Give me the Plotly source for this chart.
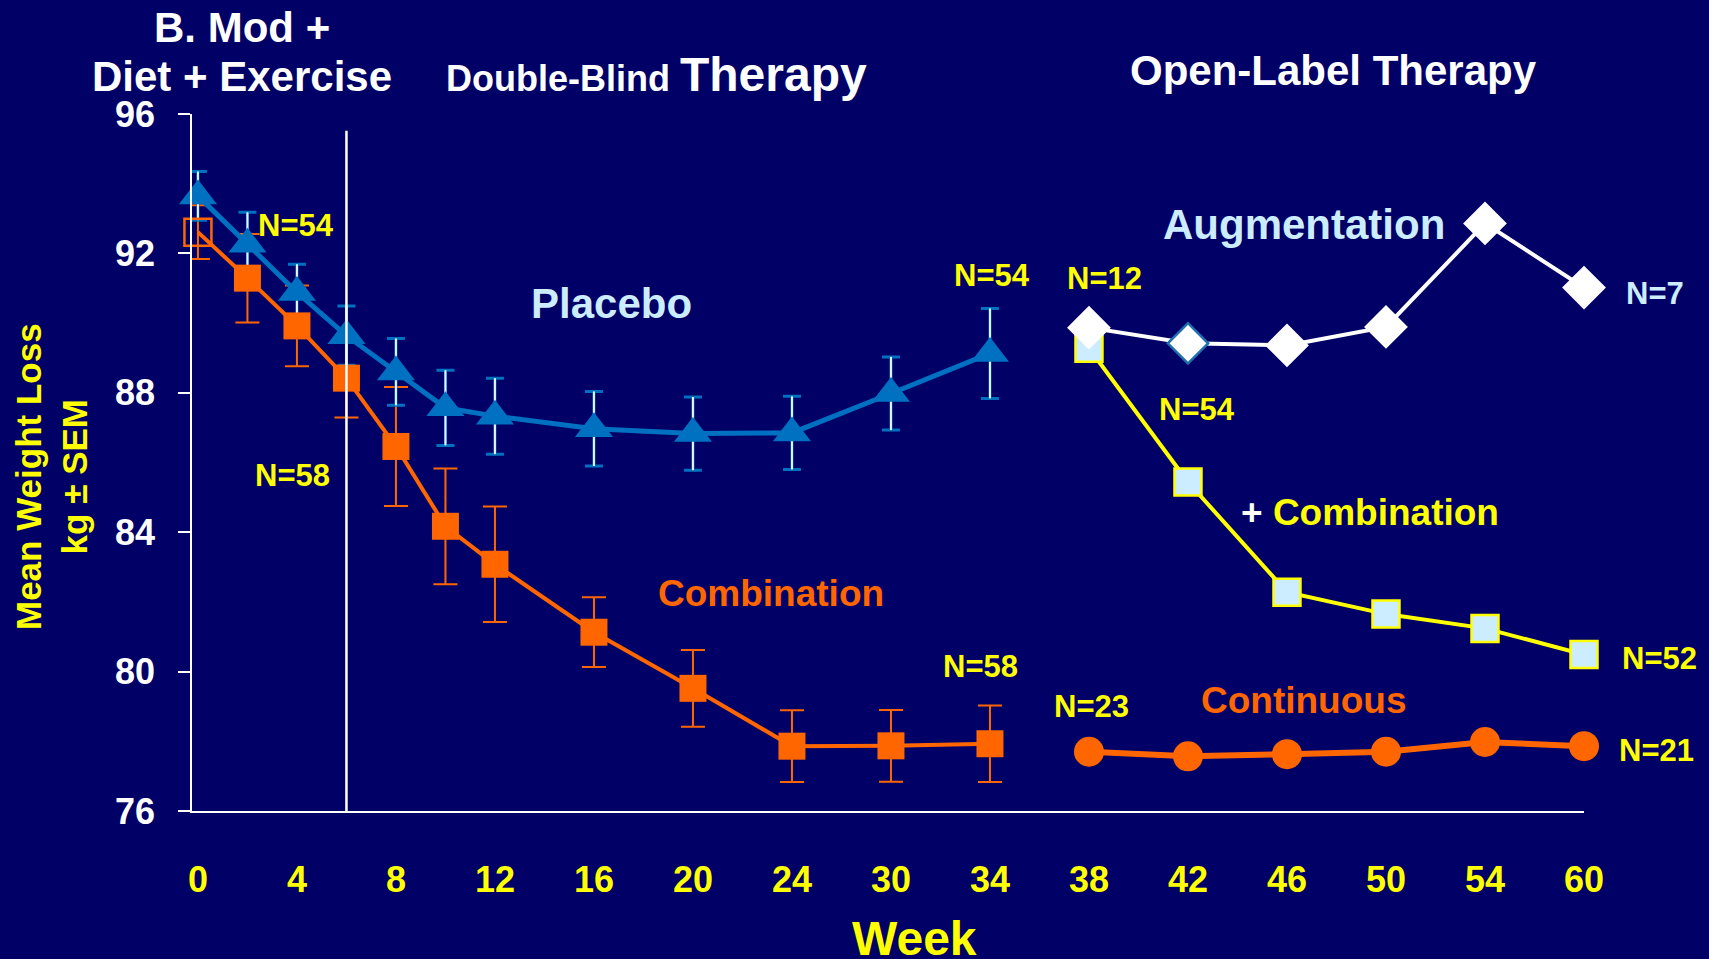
import numpy as np
import plotly.graph_objects as go

# ---------------- data ----------------
tick_weeks = [0, 4, 8, 12, 16, 20, 24, 30, 34, 38, 42, 46, 50, 54, 60]
tick_labels = [str(w) for w in tick_weeks]

placebo_weeks = [0, 2, 4, 6, 8, 10, 12, 16, 20, 24, 30, 34]
placebo_mean = [93.65, 92.26, 90.88, 89.64, 88.60, 87.57, 87.33, 86.97, 86.83, 86.85, 87.98, 89.13]
placebo_sem = [0.70, 0.92, 0.81, 0.85, 0.96, 1.08, 1.09, 1.07, 1.05, 1.05, 1.05, 1.29]

combo_weeks = [0, 2, 4, 6, 8, 10, 12, 16, 20, 24, 30, 34]
combo_mean = [92.61, 91.29, 89.92, 88.42, 86.46, 84.17, 83.08, 81.13, 79.52, 77.86, 77.87, 77.93]
combo_sem = [0.77, 1.27, 1.16, 1.13, 1.71, 1.66, 1.66, 1.00, 1.10, 1.03, 1.03, 1.10]

ol_weeks = [38, 42, 46, 50, 54, 60]
continuous_mean = [77.70, 77.57, 77.63, 77.70, 77.98, 77.86]
plus_combo_mean = [89.28, 85.44, 82.28, 81.65, 81.24, 80.49]
augment_mean = [89.87, 89.42, 89.36, 89.89, 92.86, 91.02]

# ---------------- styling ----------------
NAVY = "#000066"
BLUE = "#0070C0"
ORANGE = "#FF6600"
YELLOW = "#FFFF00"
LIGHT = "#CCECFF"
WHITE = "#FFFFFF"
FONT = "Liberation Sans, Arial, sans-serif"

# x positions: tick weeks are evenly spaced on the slide (ordinal scale)
tick_idx = list(range(len(tick_weeks)))


def xpos(weeks):
    return list(np.interp(weeks, tick_weeks, tick_idx))


L, R, T, B = 192, 1584, 114, 811
W, H = 1709, 959


def paper(px, py):
    return (px - L) / (R - L), (B - py) / (B - T)


fig = go.Figure()

# error bars (drawn beneath the series)
fig.add_trace(go.Scatter(
    x=xpos(combo_weeks), y=combo_mean, mode="markers",
    marker=dict(size=1, color="rgba(0,0,0,0)"),
    error_y=dict(type="data", array=combo_sem, color=ORANGE, thickness=2, width=12),
    hoverinfo="skip", cliponaxis=False))
fig.add_trace(go.Scatter(
    x=xpos(placebo_weeks), y=placebo_mean, mode="markers",
    marker=dict(size=1, color="rgba(0,0,0,0)"),
    error_y=dict(type="data", array=placebo_sem, color=BLUE, thickness=3, width=9),
    hoverinfo="skip", cliponaxis=False))
fig.add_trace(go.Scatter(
    x=xpos(placebo_weeks), y=placebo_mean, mode="markers",
    marker=dict(size=1, color="rgba(0,0,0,0)"),
    error_y=dict(type="data", array=placebo_sem, color="#E6F4FF", thickness=2, width=0),
    hoverinfo="skip", cliponaxis=False))

# Combination (double-blind)
fig.add_trace(go.Scatter(
    x=xpos(combo_weeks), y=combo_mean, mode="lines+markers",
    line=dict(color=ORANGE, width=4),
    marker=dict(symbol="square", size=27,
                color=["rgba(0,0,0,0)"] + [ORANGE] * (len(combo_weeks) - 1),
                line=dict(color=ORANGE, width=[2.5] + [0] * (len(combo_weeks) - 1))),
    cliponaxis=False, name="Combination"))

# Placebo
fig.add_trace(go.Scatter(
    x=xpos(placebo_weeks), y=placebo_mean, mode="lines+markers",
    line=dict(color=BLUE, width=5),
    marker=dict(symbol="triangle-up", size=33, color=BLUE),
    cliponaxis=False, name="Placebo"))

# Continuous
fig.add_trace(go.Scatter(
    x=xpos(ol_weeks), y=continuous_mean, mode="lines+markers",
    line=dict(color=ORANGE, width=6),
    marker=dict(symbol="circle", size=30, color=ORANGE),
    cliponaxis=False, name="Continuous"))

# + Combination
fig.add_trace(go.Scatter(
    x=xpos(ol_weeks), y=plus_combo_mean, mode="lines+markers",
    line=dict(color=YELLOW, width=4),
    marker=dict(symbol="square", size=27, color=LIGHT, line=dict(color=YELLOW, width=2.5)),
    cliponaxis=False, name="+ Combination"))

# Augmentation
fig.add_trace(go.Scatter(
    x=xpos(ol_weeks), y=augment_mean, mode="lines+markers",
    line=dict(color=WHITE, width=4),
    marker=dict(symbol="diamond", size=31, color=WHITE,
                line=dict(color=[WHITE, "#1F6FAF", WHITE, WHITE, WHITE, WHITE], width=2.5)),
    cliponaxis=False, name="Augmentation"))

# vertical separator at week 6
x6 = xpos([6])[0]
fig.add_shape(type="line", xref="x", yref="y", x0=x6, x1=x6, y0=75.93, y1=95.52,
              line=dict(color=WHITE, width=2.5))

ann = []


def add(text, px, py, size, color, xanchor="center", angle=0):
    xp, yp = paper(px, py)
    ann.append(dict(text=text, x=xp, y=yp, xref="paper", yref="paper", showarrow=False,
                    xanchor=xanchor, yanchor="middle", textangle=angle,
                    font=dict(family=FONT, size=size, color=color, weight="bold")))


add("B. Mod +", 242, 27, 42, WHITE)
add("Diet + Exercise", 242, 76, 42, WHITE)
add("Double-Blind <span style='font-size:48px'>Therapy</span>", 444, 74, 36, WHITE, xanchor="left")
add("Open-Label Therapy", 1333, 71, 42, WHITE)
add("Placebo", 611, 303, 42, LIGHT)
add("Augmentation", 1304, 224, 42, LIGHT)
add("Combination", 771, 593, 37, ORANGE)
add("<span style='color:#FFFFFF'>+</span> Combination", 1370, 512, 37, YELLOW)
add("Continuous", 1304, 700, 37, ORANGE)

n_labels = [
    ("N=54", 296, 226, YELLOW), ("N=58", 292, 475, YELLOW),
    ("N=54", 992, 275, YELLOW), ("N=58", 980, 666, YELLOW),
    ("N=12", 1104, 278, YELLOW), ("N=54", 1197, 409, YELLOW),
    ("N=23", 1091, 706, YELLOW), ("N=52", 1660, 658, YELLOW),
    ("N=21", 1656, 750, YELLOW), ("N=7", 1655, 293, LIGHT),
]
for t, px, py, c in n_labels:
    add(t, px, py, 31, c)

add("Week", 914, 938, 48, YELLOW)
add("Mean Weight Loss<br>kg ± SEM", 52, 477, 35, YELLOW, angle=-90)

fig.update_layout(
    width=W, height=H,
    paper_bgcolor=NAVY, plot_bgcolor=NAVY,
    margin=dict(l=L, r=W - R, t=T, b=H - B),
    showlegend=False,
    annotations=ann,
    xaxis=dict(range=[-0.06, 14.0], tickvals=tick_idx, ticktext=tick_labels,
               showgrid=False, zeroline=False, showline=True, linecolor=WHITE, linewidth=2,
               ticks="", ticklabelstandoff=36,
               tickfont=dict(family=FONT, size=36, color=YELLOW, weight="bold")),
    yaxis=dict(range=[76, 96], tickvals=[76, 80, 84, 88, 92, 96],
               showgrid=False, zeroline=False, showline=True, linecolor=WHITE, linewidth=1.5,
               ticks="outside", ticklen=12, tickwidth=1.5, tickcolor=WHITE,
               ticklabelstandoff=16,
               tickfont=dict(family=FONT, size=36, color=WHITE, weight="bold")),
)

fig.write_html("out.html", config={"displayModeBar": False},
               post_script="document.body.style.margin='0';document.body.style.overflow='hidden';")
